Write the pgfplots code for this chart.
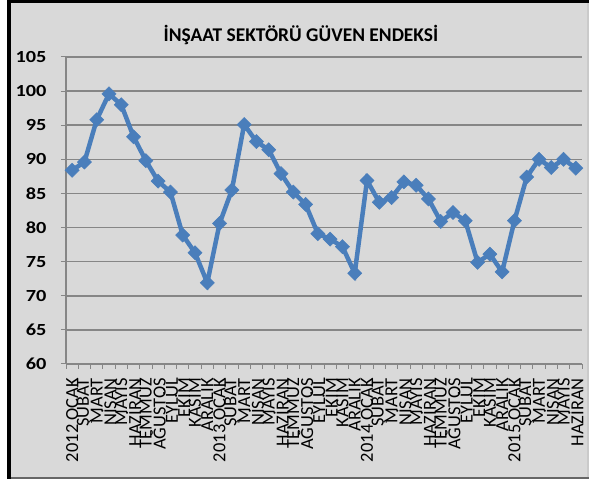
\documentclass[border=0pt]{standalone}
\usepackage{pgfplots}
\pgfplotsset{compat=1.18}
\usepackage{fontspec}
\setmainfont{Carlito}
\newfontfamily\widefont[FakeStretch=1.2]{Carlito}
\definecolor{bg}{HTML}{D9D9D9}
\definecolor{gridc}{HTML}{868686}
\definecolor{lineblue}{HTML}{4A7EBB}
\begin{document}
\begin{tikzpicture}[x=1bp,y=1bp]
\fill[white] (0,0) rectangle (589,479);
\fill[bg] (7,0) rectangle (589,479);
\fill[black] (7,0) rectangle (11,479);
\fill[black] (7,476) rectangle (589,479);
\fill[gray!80!black] (11,0) rectangle (589,1.5);
\fill[bg!93!black] (586.5,1.5) rectangle (589,476);
\node[font=\bfseries\fontsize{19.5}{19.5}\selectfont, anchor=base] at (301,437) {İNŞAAT SEKTÖRÜ GÜVEN ENDEKSİ};
\begin{axis}[
  at={(66bp,115bp)}, anchor=south west,
  scale only axis, width=516bp, height=307bp,
  xmin=0.5, xmax=42.5, ymin=60, ymax=105,
  axis x line*=bottom, axis y line*=left,
  axis line style={gridc, line width=1.2bp},
  ytick={60,65,...,105},
  xtick={0.5,1.5,...,42.5},
  x tick label as interval,
  xticklabels={2012 OCAK,ŞUBAT,MART,NİSAN,MAYIS,HAZİRAN,TEMMUZ,AĞUSTOS,EYLÜL,EKİM,KASIM,ARALIK,
    2013 OCAK,ŞUBAT,MART,NİSAN,MAYIS,HAZİRAN,TEMMUZ,AĞUSTOS,EYLÜL,EKİM,KASIM,ARALIK,
    2014 OCAK,ŞUBAT,MART,NİSAN,MAYIS,HAZİRAN,TEMMUZ,AĞUSTOS,EYLÜL,EKİM,KASIM,ARALIK,
    2015 OCAK,ŞUBAT,MART,NİSAN,MAYIS,HAZİRAN},
  tick align=outside,
  major tick length=5bp,
  tick style={gridc, line width=1bp},
  ymajorgrids,
  grid style={gridc, line width=1.5bp},
  /pgf/number format/assume math mode=true,
  yticklabel style={font=\widefont\bfseries\fontsize{17}{17}\selectfont, xshift=-11bp},
  xticklabel style={font=\fontsize{18.5}{18.5}\selectfont, rotate=90, anchor=east, inner sep=1bp, xshift=-8bp, yshift=0bp},
  clip=false,
]
\addplot[color=lineblue, line width=4.5bp, mark=square*, mark size=5bp,
  mark options={rotate=45, fill=lineblue, draw=lineblue, line width=0.5bp}]
coordinates {
(1,88.4)(2,89.6)(3,95.8)(4,99.6)(5,98.0)(6,93.3)(7,89.8)(8,86.8)(9,85.2)(10,78.9)(11,76.3)(12,71.9)
(13,80.6)(14,85.5)(15,95.1)(16,92.6)(17,91.4)(18,87.9)(19,85.2)(20,83.4)(21,79.1)(22,78.3)(23,77.2)(24,73.3)
(25,86.9)(26,83.7)(27,84.4)(28,86.7)(29,86.2)(30,84.2)(31,80.9)(32,82.2)(33,81.0)(34,74.9)(35,76.1)(36,73.5)
(37,81.0)(38,87.4)(39,90.0)(40,88.8)(41,90.0)(42,88.7)
};
\end{axis}
\pgfresetboundingbox
\useasboundingbox (0,0) rectangle (589,479);
\end{tikzpicture}
\end{document}
